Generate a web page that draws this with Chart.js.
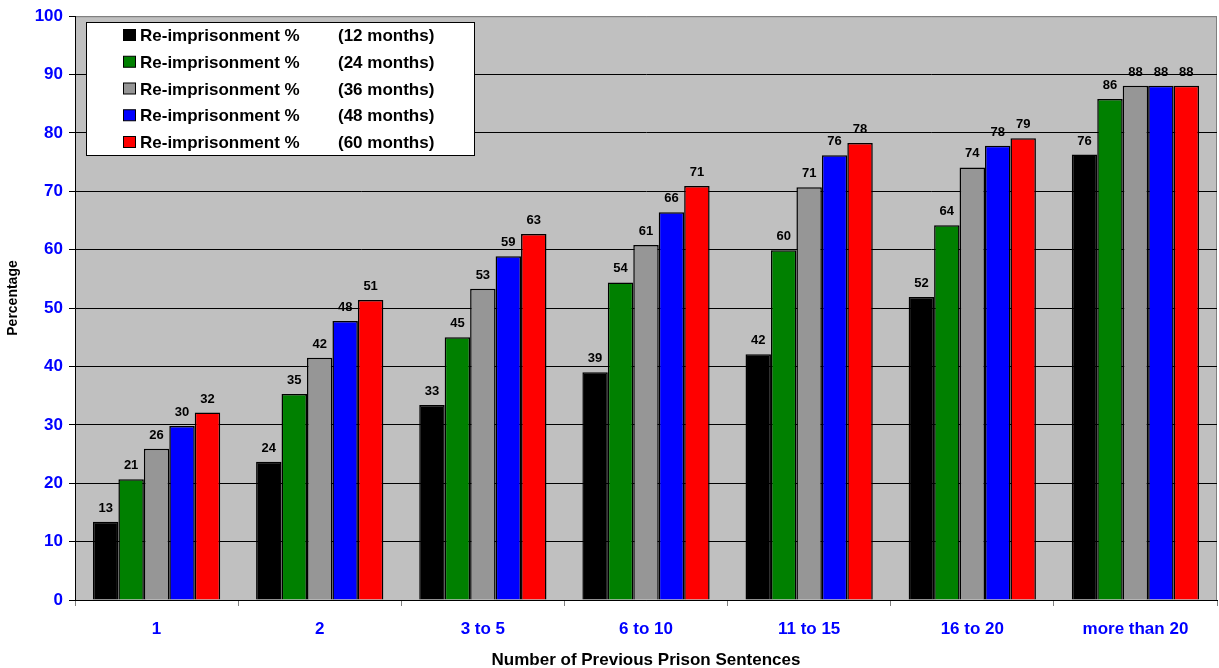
<!DOCTYPE html>
<html>
<head>
<meta charset="utf-8">
<script src="https://cdn.jsdelivr.net/npm/chart.js@4.4.1/dist/chart.umd.min.js"></script>
<style>
  html, body { margin: 0; padding: 0; background: #fff; }
  #wrap { width: 1219px; height: 668px; }
</style>
</head>
<body>
<div id="wrap"><canvas id="reChart" width="1219" height="668"></canvas></div>
<script>
// categories on the x axis
const categories = ['1', '2', '3 to 5', '6 to 10', '11 to 15', '16 to 20', 'more than 20'];

// re-imprisonment % by follow-up period
const reimp12 = [13.4, 23.7, 33.4, 39.0, 42.1, 51.9, 76.3];
const reimp24 = [20.7, 35.3, 45.0, 54.4, 59.9, 64.2, 85.8];
const reimp36 = [25.9, 41.5, 53.3, 60.8, 70.7, 74.1, 88.1];
const reimp48 = [29.8, 47.8, 58.9, 66.4, 76.2, 77.8, 88.1];
const reimp60 = [32.1, 51.4, 62.7, 70.9, 78.3, 79.1, 88.1];

const seriesName = 'Re-imprisonment %';
const periods = ['(12 months)', '(24 months)', '(36 months)', '(48 months)', '(60 months)'];
const seriesColors = ['#000000', '#008000', '#969696', '#0000FF', '#FF0000'];

// y axis ticks 0..100
const yTicks = [0, 10, 20, 30, 40, 50, 60, 70, 80, 90, 100];
const yTitle = 'Percentage';

const FONT = "'Liberation Sans', Arial, sans-serif";

// plot background (grey panel)
const plotBg = {
  id: 'plotBg',
  beforeDraw(chart){
    const a = chart.chartArea, c = chart.ctx;
    c.save();
    c.fillStyle = '#C0C0C0';
    c.fillRect(a.left, a.top, a.right - a.left, a.bottom - a.top);
    c.strokeStyle = '#808080';
    c.lineWidth = 1;
    c.strokeRect(a.left + 0.5, a.top + 0.5, a.right - a.left - 1, a.bottom - a.top);
    c.restore();
  }
};

// numbers above the bars
const barValues = {
  id: 'barValues',
  afterDatasetsDraw(chart){
    const c = chart.ctx;
    c.save();
    c.font = 'bold 13px ' + FONT;
    c.fillStyle = '#000';
    c.textAlign = 'center';
    c.textBaseline = 'alphabetic';
    chart.data.datasets.forEach((ds, i) => {
      chart.getDatasetMeta(i).data.forEach((bar, j) => {
        c.fillText(String(Math.round(ds.data[j])), bar.x, bar.y - 10);
      });
    });
    c.restore();
  }
};

// rotated y title, sits a bit above the middle like the original
const yTitleDraw = {
  id: 'yTitleDraw',
  afterDraw(chart){
    const c = chart.ctx;
    c.save();
    c.translate(13, 298);
    c.rotate(-Math.PI / 2);
    c.font = 'bold 14px ' + FONT;
    c.fillStyle = '#000';
    c.textAlign = 'center';
    c.textBaseline = 'middle';
    c.fillText(yTitle, 0, 0);
    c.restore();
  }
};

// legend box inside the plot, top-left
const boxLegend = {
  id: 'boxLegend',
  afterDraw(chart){
    const c = chart.ctx;
    const x0 = 86, y0 = 22, w = 388, h = 133;
    c.save();
    c.fillStyle = '#fff';
    c.fillRect(x0, y0, w, h);
    c.strokeStyle = '#000';
    c.lineWidth = 1;
    c.strokeRect(x0 + 0.5, y0 + 0.5, w, h);
    c.font = 'bold 17px ' + FONT;
    c.textBaseline = 'middle';
    c.textAlign = 'left';
    chart.data.datasets.forEach((ds, i) => {
      const cy = 35.5 + i * 26.75;
      c.fillStyle = ds.backgroundColor;
      c.fillRect(123.5, cy - 6, 12, 11);
      c.strokeStyle = '#000';
      c.strokeRect(123.5, cy - 6, 12, 11);
      c.fillStyle = '#000';
      c.fillText(seriesName, 140, cy + 1);
      c.fillText(periods[i], 338, cy + 1);
    });
    c.restore();
  }
};

const allSeries = [reimp12, reimp24, reimp36, reimp48, reimp60];
const datasets = allSeries.map((vals, i) => ({
  label: seriesName + ' ' + periods[i],
  data: vals,
  backgroundColor: seriesColors[i],
  borderColor: '#000',
  borderWidth: 1.5,
  barPercentage: 1,
  categoryPercentage: 0.78
}));

new Chart(document.getElementById('reChart').getContext('2d'), {
  type: 'bar',
  data: { labels: categories, datasets: datasets },
  options: {
    responsive: false,
    animation: false,
    devicePixelRatio: 1,
    layout: { padding: { top: 16, right: 2, left: 0, bottom: 0 } },
    plugins: {
      legend: { display: false },
      tooltip: { enabled: false }
    },
    scales: {
      x: {
        grid: { drawOnChartArea: false, drawTicks: true, tickLength: 6, color: '#808080', offset: true },
        border: { color: '#000', width: 1 },
        ticks: { color: '#0000FF', font: { family: FONT, size: 17, weight: 'bold' }, padding: 13, maxRotation: 0 },
        title: { display: true, text: 'Number of Previous Prison Sentences', color: '#000',
                 font: { family: FONT, size: 17, weight: 'bold' }, padding: { top: 0, bottom: -3 } },
        afterFit(s){ s.height = 68; }
      },
      y: {
        min: 0, max: 100,
        afterBuildTicks(s){ s.ticks = yTicks.map(v => ({ value: v })); },
        grid: { color: ctx => ctx.tick && ctx.tick.value === 100 ? '#808080' : '#000', tickColor: '#000', tickLength: 6, lineWidth: 1 },
        border: { color: '#000', width: 1 },
        ticks: { color: '#0000FF', font: { family: FONT, size: 17, weight: 'bold' }, padding: 6 },
        title: { display: false },
        afterFit(s){ s.width = 75; }
      }
    }
  },
  plugins: [plotBg, barValues, yTitleDraw, boxLegend]
});
</script>
</body>
</html>
